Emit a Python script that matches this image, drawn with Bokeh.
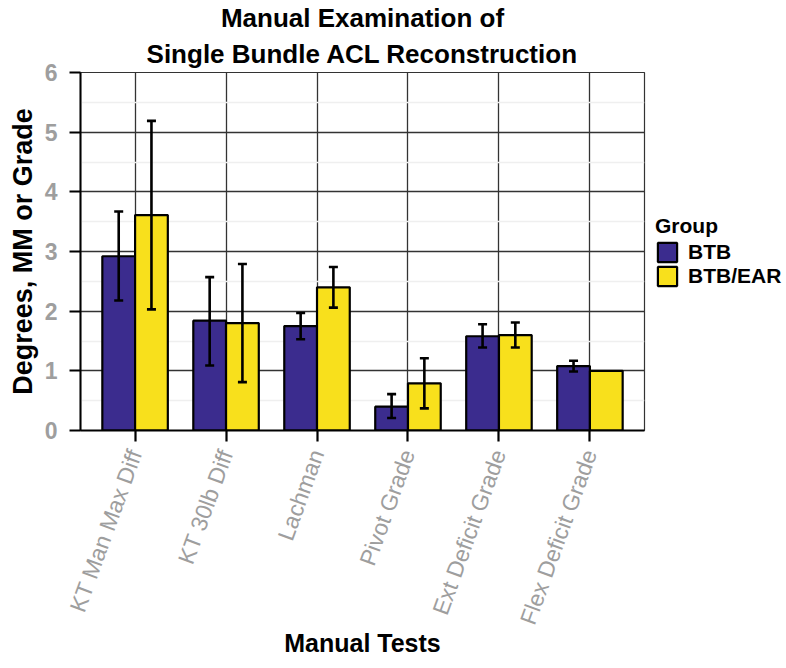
import math
from bokeh.plotting import figure
from bokeh.models import (ColumnDataSource, FixedTicker, Whisker, TeeHead, Legend,
                          LegendItem, Title, Range1d)
from bokeh.embed import file_html
from bokeh.resources import INLINE

nan = float("nan")

categories = ["KT Man Max Diff", "KT 30lb Diff", "Lachman", "Pivot Grade",
              "Ext Deficit Grade", "Flex Deficit Grade"]
groups = ["BTB", "BTB/EAR"]
btb_mean = [2.92, 1.84, 1.75, 0.40, 1.58, 1.08]
btb_lower = [2.18, 1.09, 1.53, 0.21, 1.39, 0.99]
btb_upper = [3.67, 2.57, 1.97, 0.61, 1.78, 1.17]
ear_mean = [3.61, 1.80, 2.40, 0.79, 1.60, 1.00]
ear_lower = [2.03, 0.81, 2.06, 0.37, 1.39, nan]
ear_upper = [5.19, 2.79, 2.74, 1.21, 1.81, nan]
y_ticks = [0, 1, 2, 3, 4, 5, 6]
y_minor = [0.5, 1.5, 2.5, 3.5, 4.5, 5.5]

colors = ["#3b2c8e", "#f8e01c"]
FONT = "Liberation Sans"
BAR_W = 0.36

xs = [i + 1 for i in range(len(categories))]
x_btb = [x - BAR_W / 2 for x in xs]
x_ear = [x + BAR_W / 2 for x in xs]

p = figure(frame_width=564, frame_height=358,
           x_range=Range1d(0.4, len(categories) + 0.6), y_range=Range1d(0, 6),
           output_backend="svg", toolbar_location=None, title=None,
           min_border_left=0, min_border_right=11, min_border_top=0, min_border_bottom=0,
           margin=(0, 0, 0, 4))
p.background_fill_color = "white"
p.border_fill_color = "white"
p.outline_line_color = "#333333"
p.outline_line_width = 1.2

# grids
p.xgrid.ticker = FixedTicker(ticks=xs)
p.xgrid.grid_line_color = "#333333"
p.xgrid.grid_line_width = 1.3
p.ygrid.ticker = FixedTicker(ticks=y_ticks, minor_ticks=y_minor)
p.ygrid.grid_line_color = "#333333"
p.ygrid.grid_line_width = 1.3
p.ygrid.minor_grid_line_color = "#efefef"
p.ygrid.minor_grid_line_width = 1.3

src_btb = ColumnDataSource(dict(x=x_btb, top=btb_mean))
src_ear = ColumnDataSource(dict(x=x_ear, top=ear_mean))
r_btb = p.vbar(x="x", top="top", bottom=0, width=BAR_W, source=src_btb,
               fill_color=colors[0], line_color="black", line_width=2.2)
r_ear = p.vbar(x="x", top="top", bottom=0, width=BAR_W, source=src_ear,
               fill_color=colors[1], line_color="black", line_width=2.2)

wx, wl, wu = [], [], []
for xx, lo, hi in list(zip(x_btb, btb_lower, btb_upper)) + list(zip(x_ear, ear_lower, ear_upper)):
    if not (math.isnan(lo) or math.isnan(hi)):
        wx.append(xx); wl.append(lo); wu.append(hi)
wsrc = ColumnDataSource(dict(base=wx, lower=wl, upper=wu))
whisk = Whisker(source=wsrc, base="base", lower="lower", upper="upper", dimension="height",
                level="overlay", line_width=2.6, line_color="black",
                upper_head=TeeHead(size=9, line_width=2.6, line_color="black"),
                lower_head=TeeHead(size=9, line_width=2.6, line_color="black"))
p.add_layout(whisk)

# axes
p.xaxis.ticker = FixedTicker(ticks=xs)
p.xaxis.major_label_overrides = {x: c for x, c in zip(xs, categories)}
p.xaxis.major_label_orientation = 70 * math.pi / 180
p.yaxis.ticker = FixedTicker(ticks=y_ticks)
for ax in (p.xaxis[0], p.yaxis[0]):
    ax.axis_line_color = "black"
    ax.axis_line_width = 2
    ax.major_tick_line_color = "black"
    ax.major_tick_line_width = 2.2
    ax.major_tick_out = 11
    ax.major_tick_in = 0
    ax.minor_tick_line_color = None
    ax.major_label_text_color = "#9e9e9e"
    ax.major_label_text_font = FONT
    ax.axis_label_text_font = FONT
    ax.axis_label_text_font_style = "bold"
    ax.axis_label_text_color = "black"
p.xaxis.major_label_text_font_size = "23px"
p.yaxis.major_label_text_font_size = "23px"
p.yaxis.major_label_text_font_style = "bold"
p.yaxis.major_label_standoff = 12
p.xaxis.major_label_standoff = 9
p.yaxis.axis_label = "Degrees, MM or Grade"
p.xaxis.axis_label = "Manual Tests"
p.yaxis.axis_label_text_font_size = "27px"
p.xaxis.axis_label_text_font_size = "25px"
p.yaxis.axis_label_standoff = 4
p.xaxis.axis_label_standoff = -6

legend = Legend(items=[LegendItem(label=groups[0], renderers=[r_btb]),
                       LegendItem(label=groups[1], renderers=[r_ear])],
                title="Group", location=(11, 142), orientation="vertical")
legend.title_text_font = FONT
legend.title_text_font_style = "bold"
legend.title_text_font_size = "21px"
legend.title_text_color = "black"
legend.title_standoff = 2
legend.label_text_font = FONT
legend.label_text_font_style = "bold"
legend.label_text_font_size = "21px"
legend.label_text_color = "black"
legend.glyph_width = 24
legend.glyph_height = 24
legend.spacing = 0
legend.padding = 0
legend.margin = 0
legend.label_standoff = 9
legend.border_line_color = None
legend.background_fill_alpha = 0
p.add_layout(legend, "right")

p.add_layout(Title(text="Single Bundle ACL Reconstruction", align="center", text_font=FONT,
                   text_font_size="26px", text_font_style="bold", text_color="black",
                   standoff=8), "above")
p.add_layout(Title(text="Manual Examination of", align="center", text_font=FONT,
                   text_font_size="26px", text_font_style="bold", text_color="black",
                   standoff=0), "above")

open("out.html", "w").write(file_html(p, INLINE))
